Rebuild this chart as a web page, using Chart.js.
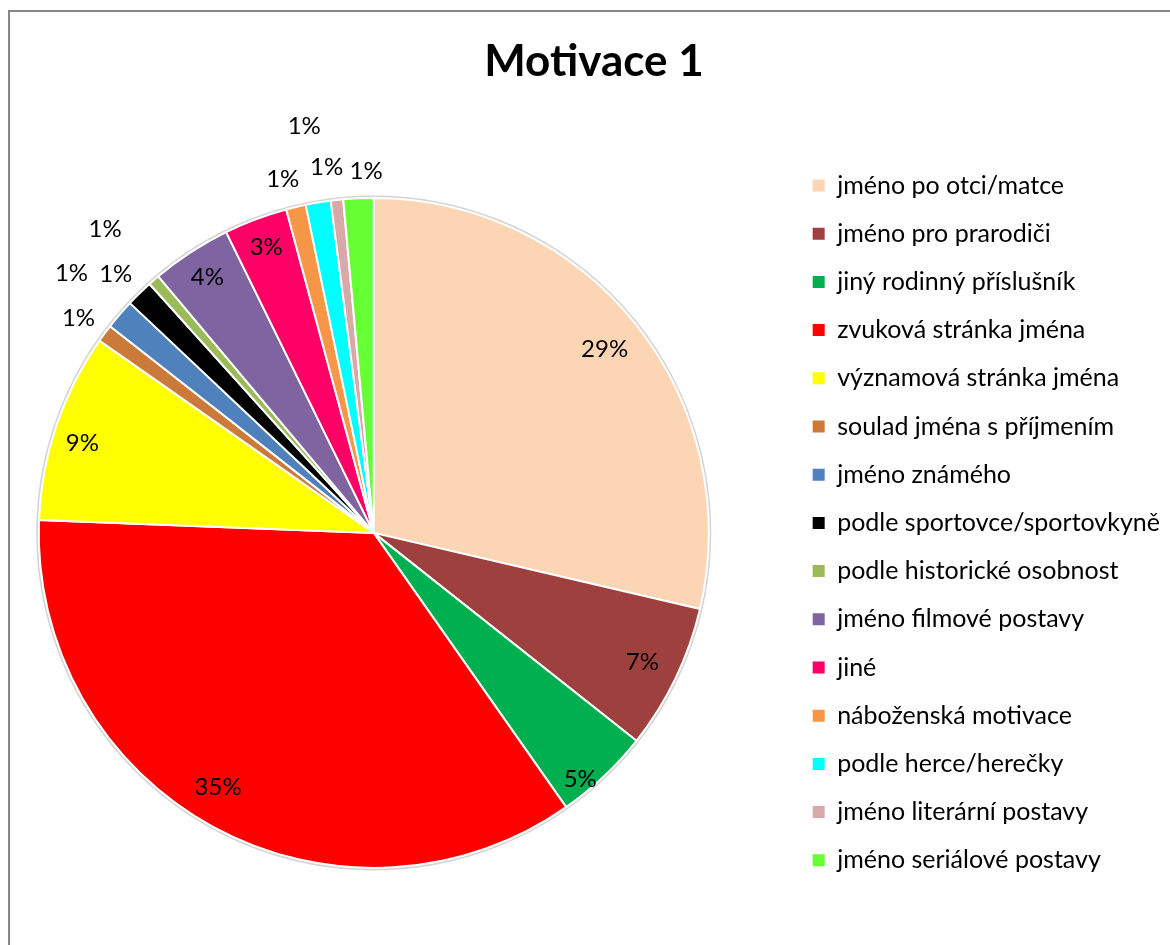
<!DOCTYPE html>
<html>
<head>
<meta charset="utf-8">
<script src="https://cdn.jsdelivr.net/npm/chart.js@4/dist/chart.umd.min.js"></script>
<style>
  html, body { margin: 0; padding: 0; background: #fff; overflow: hidden; }
  #wrap { position: relative; width: 1170px; height: 945px; overflow: hidden; }
  #frame { position: absolute; left: 8px; top: 10px; width: 1200px; height: 1000px; border: 2px solid #878787; }
  #motivace { position: absolute; left: 0; top: 0; }
</style>
</head>
<body>
<div id="wrap">
  <div id="frame"></div>
  <canvas id="motivace" width="1170" height="945"></canvas>
</div>
<script>
// Motivace 1 - podíly jednotlivých motivací (v %)
const categories = [
    'jméno po otci/matce',
    'jméno pro prarodiči',
    'jiný rodinný příslušník',
    'zvuková stránka jména',
    'významová stránka jména',
    'soulad jména s příjmením',
    'jméno známého',
    'podle sportovce/sportovkyně',
    'podle historické osobnost',
    'jméno filmové postavy',
    'jiné',
    'náboženská motivace',
    'podle herce/herečky',
    'jméno literární postavy',
    'jméno seriálové postavy'
];
const shares = [28.6, 7.0, 4.6, 35.3, 9.1, 0.85, 1.45, 1.3, 0.55, 3.85, 3.05, 0.95, 1.2, 0.6, 1.45];

const sliceColors = [
    '#FCD5B5', '#9E413E', '#00B050', '#FF0000', '#FFFF00',
    '#CC7A3A', '#4F81BD', '#000000', '#9BBB59', '#8064A2',
    '#FF0066', '#F79646', '#00FFFF', '#D9A9A9', '#66FF33'
];
// where each percentage sits: share of the radius, and a small turn (degrees) off the slice middle
const labelRadius = [0.88, 0.89, 0.96, 0.89, 0.91, 1.09, 1.19, 1.09, 1.21, 0.91, 0.91, 1.09, 1.10, 1.23, 1.08];
const labelTurn = [0, 0, 3.4, 2.9, -1.5, -0.5, 0, -0.6, -0.5, 0, 0, -1, 2.2, -3.4, 1.4];

Chart.defaults.font.family = 'Lato';
Chart.defaults.color = '#000';

// faint grey rim round the pie, like the Excel original
const pieRim = {
    id: 'pieRim',
    beforeDatasetsDraw(chart) {
        const arc = chart.getDatasetMeta(0).data[0];
        if (!arc) return;
        const {x, y, outerRadius} = arc.getProps(['x', 'y', 'outerRadius'], true);
        const ctx = chart.ctx;
        ctx.save();
        ctx.strokeStyle = '#d4d4d4';
        ctx.lineWidth = 2;
        ctx.beginPath();
        ctx.arc(x, y, outerRadius + 1.5, 0, Math.PI * 2);
        ctx.stroke();
        ctx.restore();
    }
};

// percentage labels
const sliceLabels = {
    id: 'sliceLabels',
    afterDatasetsDraw(chart) {
        const meta = chart.getDatasetMeta(0);
        const data = chart.data.datasets[0].data;
        const total = data.reduce((a, b) => a + b, 0);
        const ctx = chart.ctx;
        ctx.save();
        ctx.font = '24px Lato';
        ctx.fillStyle = '#000';
        ctx.textAlign = 'center';
        ctx.textBaseline = 'middle';
        meta.data.forEach((arc, i) => {
            const {x, y, startAngle, endAngle, outerRadius} =
                arc.getProps(['x', 'y', 'startAngle', 'endAngle', 'outerRadius'], true);
            const mid = (startAngle + endAngle) / 2 + labelTurn[i] * Math.PI / 180;
            const r = outerRadius * labelRadius[i];
            ctx.fillText(Math.round(data[i] / total * 100) + '%',
                x + Math.cos(mid) * r, y + Math.sin(mid) * r);
        });
        ctx.restore();
    }
};

const ctx = document.getElementById('motivace').getContext('2d');
const motivaceChart = new Chart(ctx, {
    type: 'pie',
    data: {
        labels: categories,
        datasets: [{
            data: shares,
            backgroundColor: sliceColors,
            borderColor: '#ffffff',
            borderWidth: 2
        }]
    },
    options: {
        responsive: false,
        animation: false,
        radius: 335,
        layout: {
            padding: { left: 18, right: 0, top: 0, bottom: 29 }
        },
        // empty axis used only as a gap between the pie and the legend
        scales: {
            gap: {
                type: 'linear',
                position: 'right',
                display: true,
                ticks: { display: false },
                grid: { display: false },
                border: { display: false },
                afterFit(scale) { scale.width = 60; }
            }
        },
        plugins: {
            title: {
                display: true,
                text: 'Motivace 1',
                color: '#000',
                font: { size: 44, weight: 'bold' },
                padding: { top: 35, bottom: 62 }
            },
            legend: {
                position: 'right',
                align: 'start',
                fullSize: false,
                maxWidth: 500,
                labels: {
                    boxWidth: 12,
                    boxHeight: 12,
                    padding: 23.2,
                    color: '#000',
                    font: { size: 25 },
                    generateLabels(chart) {
                        return Chart.overrides.pie.plugins.legend.labels.generateLabels(chart)
                            .map(item => ({ ...item, lineWidth: 0 }));
                    }
                }
            },
            tooltip: { enabled: false }
        }
    },
    plugins: [pieRim, sliceLabels]
});
</script>
</body>
</html>
